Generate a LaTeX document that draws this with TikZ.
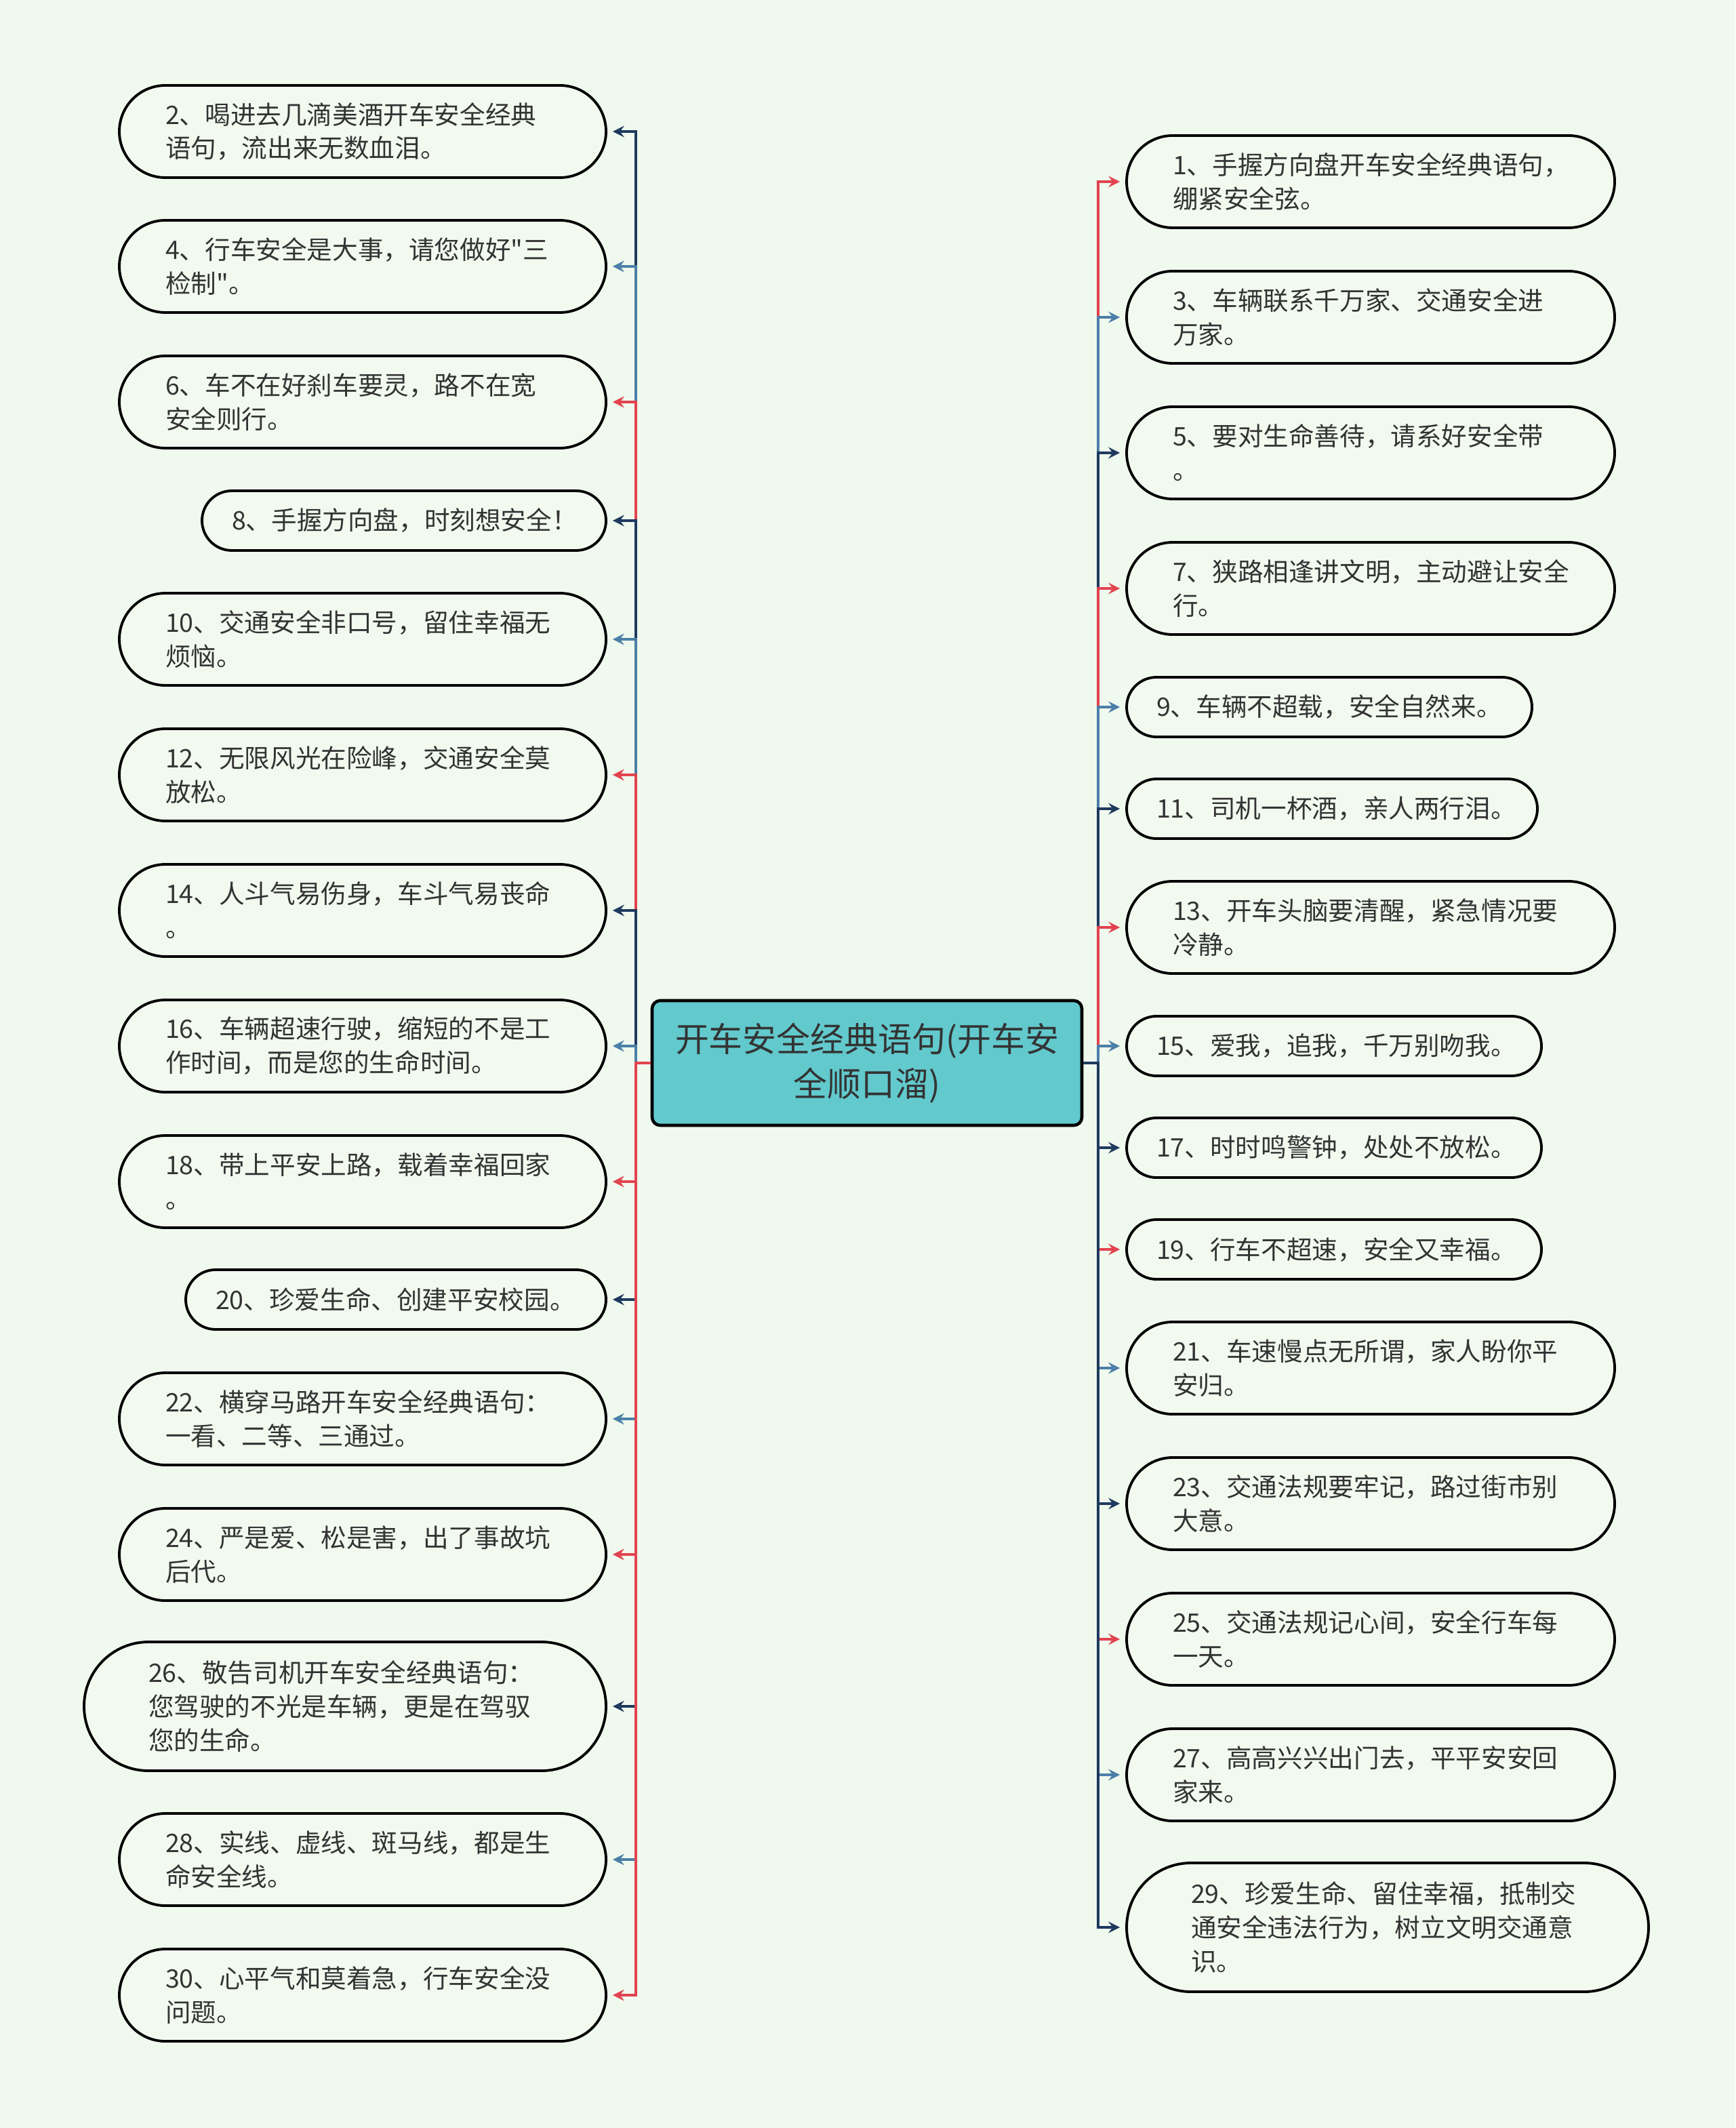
\documentclass[tikz,border=0pt]{standalone}
\usepackage{fontspec}
\newfontfamily\cjk{Noto Sans CJK SC}
\definecolor{bgcol}{HTML}{F0F9EE}
\definecolor{leaffill}{HTML}{F2FAF0}
\definecolor{titlefill}{HTML}{62C9CD}
\definecolor{lnavy}{HTML}{1F3A5F}
\definecolor{lsteel}{HTML}{4B7FA8}
\definecolor{lred}{HTML}{E2434F}
\definecolor{txt}{HTML}{333333}
\tikzset{
  leaf/.style={draw=black, line width=1.1pt, fill=leaffill, text=txt, align=left,
    font=\cjk\fontsize{10.7}{14.2}\selectfont},
  one/.style={leaf, text width=#1, minimum height=0.88cm, rounded corners=0.44cm, inner xsep=0.44cm},
  two/.style={leaf, text width=#1, minimum height=1.36cm, rounded corners=0.68cm, inner xsep=0.68cm},
  three/.style={leaf, text width=#1, minimum height=1.90cm, rounded corners=0.95cm, inner xsep=0.95cm},
  link/.style={line width=1.1pt, -stealth, shorten >=0.08cm},
}
\begin{document}
\begin{tikzpicture}[y=-1cm]
    \fill[bgcol] (0,0) rectangle (25.6,31.39);
    \useasboundingbox (0,0) rectangle (25.6,31.39);

    % centre
    \node[draw=black, line width=1.3pt, fill=titlefill, rounded corners=0.12cm, text=txt,
      minimum width=6.34cm, minimum height=1.84cm, text width=5.7cm, align=center,
      font=\cjk\fontsize{14.2}{18.7}\selectfont] (title) at (12.79,15.68)
      {开车安全经典语句(开车安\\全顺口溜)};
    \coordinate (lhub) at (9.38,15.68);
    \coordinate (rhub) at (16.20,15.68);

    % left side
    \node[two=5.82cm] (n2) at (5.35,1.94) {2、喝进去几滴美酒开车安全经典\\语句，流出来无数血泪。};
    \node[two=5.82cm] (n4) at (5.35,3.93) {4、行车安全是大事，请您做好"三\\检制"。};
    \node[two=5.82cm] (n6) at (5.35,5.93) {6、车不在好刹车要灵，路不在宽\\安全则行。};
    \node[one=5.08cm] (n8) at (5.96,7.68) {8、手握方向盘，时刻想安全！};
    \node[two=5.82cm] (n10) at (5.35,9.43) {10、交通安全非口号，留住幸福无\\烦恼。};
    \node[two=5.82cm] (n12) at (5.35,11.43) {12、无限风光在险峰，交通安全莫\\放松。};
    \node[two=5.82cm] (n14) at (5.35,13.43) {14、人斗气易伤身，车斗气易丧命\\。};
    \node[two=5.82cm] (n16) at (5.35,15.43) {16、车辆超速行驶，缩短的不是工\\作时间，而是您的生命时间。};
    \node[two=5.82cm] (n18) at (5.35,17.43) {18、带上平安上路，载着幸福回家\\。};
    \node[one=5.32cm] (n20) at (5.84,19.17) {20、珍爱生命、创建平安校园。};
    \node[two=5.82cm] (n22) at (5.35,20.93) {22、横穿马路开车安全经典语句：\\一看、二等、三通过。};
    \node[two=5.82cm] (n24) at (5.35,22.93) {24、严是爱、松是害，出了事故坑\\后代。};
    \node[three=5.80cm] (n26) at (5.09,25.17) {26、敬告司机开车安全经典语句：\\您驾驶的不光是车辆，更是在驾驭\\您的生命。};
    \node[two=5.82cm] (n28) at (5.35,27.43) {28、实线、虚线、斑马线，都是生\\命安全线。};
    \node[two=5.82cm] (n30) at (5.35,29.43) {30、心平气和莫着急，行车安全没\\问题。};

    % right side
    \node[two=5.84cm] (n1) at (20.22,2.68) {1、手握方向盘开车安全经典语句，\\绷紧安全弦。};
    \node[two=5.84cm] (n3) at (20.22,4.68) {3、车辆联系千万家、交通安全进\\万家。};
    \node[two=5.84cm] (n5) at (20.22,6.68) {5、要对生命善待，请系好安全带\\。};
    \node[two=5.84cm] (n7) at (20.22,8.68) {7、狭路相逢讲文明，主动避让安全\\行。};
    \node[one=5.10cm] (n9) at (19.61,10.43) {9、车辆不超载，安全自然来。};
    \node[one=5.18cm] (n11) at (19.65,11.93) {11、司机一杯酒，亲人两行泪。};
    \node[two=5.84cm] (n13) at (20.22,13.68) {13、开车头脑要清醒，紧急情况要\\冷静。};
    \node[one=5.24cm] (n15) at (19.68,15.43) {15、爱我，追我，千万别吻我。};
    \node[one=5.24cm] (n17) at (19.68,16.93) {17、时时鸣警钟，处处不放松。};
    \node[one=5.24cm] (n19) at (19.68,18.43) {19、行车不超速，安全又幸福。};
    \node[two=5.84cm] (n21) at (20.22,20.18) {21、车速慢点无所谓，家人盼你平\\安归。};
    \node[two=5.84cm] (n23) at (20.22,22.18) {23、交通法规要牢记，路过街市别\\大意。};
    \node[two=5.84cm] (n25) at (20.22,24.18) {25、交通法规记心间，安全行车每\\一天。};
    \node[two=5.84cm] (n27) at (20.22,26.18) {27、高高兴兴出门去，平平安安回\\家来。};
    \node[three=5.80cm] (n29) at (20.47,28.43) {29、珍爱生命、留住幸福，抵制交\\通安全违法行为，树立文明交通意\\识。};

    % left links
    \draw[link, lnavy] (title.west) -- (lhub) |- (n2.east);
    \draw[link, lsteel] (title.west) -- (lhub) |- (n4.east);
    \draw[link, lred] (title.west) -- (lhub) |- (n6.east);
    \draw[link, lnavy] (title.west) -- (lhub) |- (n8.east);
    \draw[link, lsteel] (title.west) -- (lhub) |- (n10.east);
    \draw[link, lred] (title.west) -- (lhub) |- (n12.east);
    \draw[link, lnavy] (title.west) -- (lhub) |- (n14.east);
    \draw[link, lsteel] (title.west) -- (lhub) |- (n16.east);
    \draw[link, lred] (title.west) -- (lhub) |- (n18.east);
    \draw[link, lnavy] (title.west) -- (lhub) |- (n20.east);
    \draw[link, lsteel] (title.west) -- (lhub) |- (n22.east);
    \draw[link, lred] (title.west) -- (lhub) |- (n24.east);
    \draw[link, lnavy] (title.west) -- (lhub) |- (n26.east);
    \draw[link, lsteel] (title.west) -- (lhub) |- (n28.east);
    \draw[link, lred] (title.west) -- (lhub) |- (n30.east);

    % right links
    \draw[link, lred] (title.east) -- (rhub) |- (n1.west);
    \draw[link, lsteel] (title.east) -- (rhub) |- (n3.west);
    \draw[link, lnavy] (title.east) -- (rhub) |- (n5.west);
    \draw[link, lred] (title.east) -- (rhub) |- (n7.west);
    \draw[link, lsteel] (title.east) -- (rhub) |- (n9.west);
    \draw[link, lnavy] (title.east) -- (rhub) |- (n11.west);
    \draw[link, lred] (title.east) -- (rhub) |- (n13.west);
    \draw[link, lsteel] (title.east) -- (rhub) |- (n15.west);
    \draw[link, lnavy] (title.east) -- (rhub) |- (n17.west);
    \draw[link, lred] (title.east) -- (rhub) |- (n19.west);
    \draw[link, lsteel] (title.east) -- (rhub) |- (n21.west);
    \draw[link, lnavy] (title.east) -- (rhub) |- (n23.west);
    \draw[link, lred] (title.east) -- (rhub) |- (n25.west);
    \draw[link, lsteel] (title.east) -- (rhub) |- (n27.west);
    \draw[link, lnavy] (title.east) -- (rhub) |- (n29.west);
\end{tikzpicture}
\end{document}
